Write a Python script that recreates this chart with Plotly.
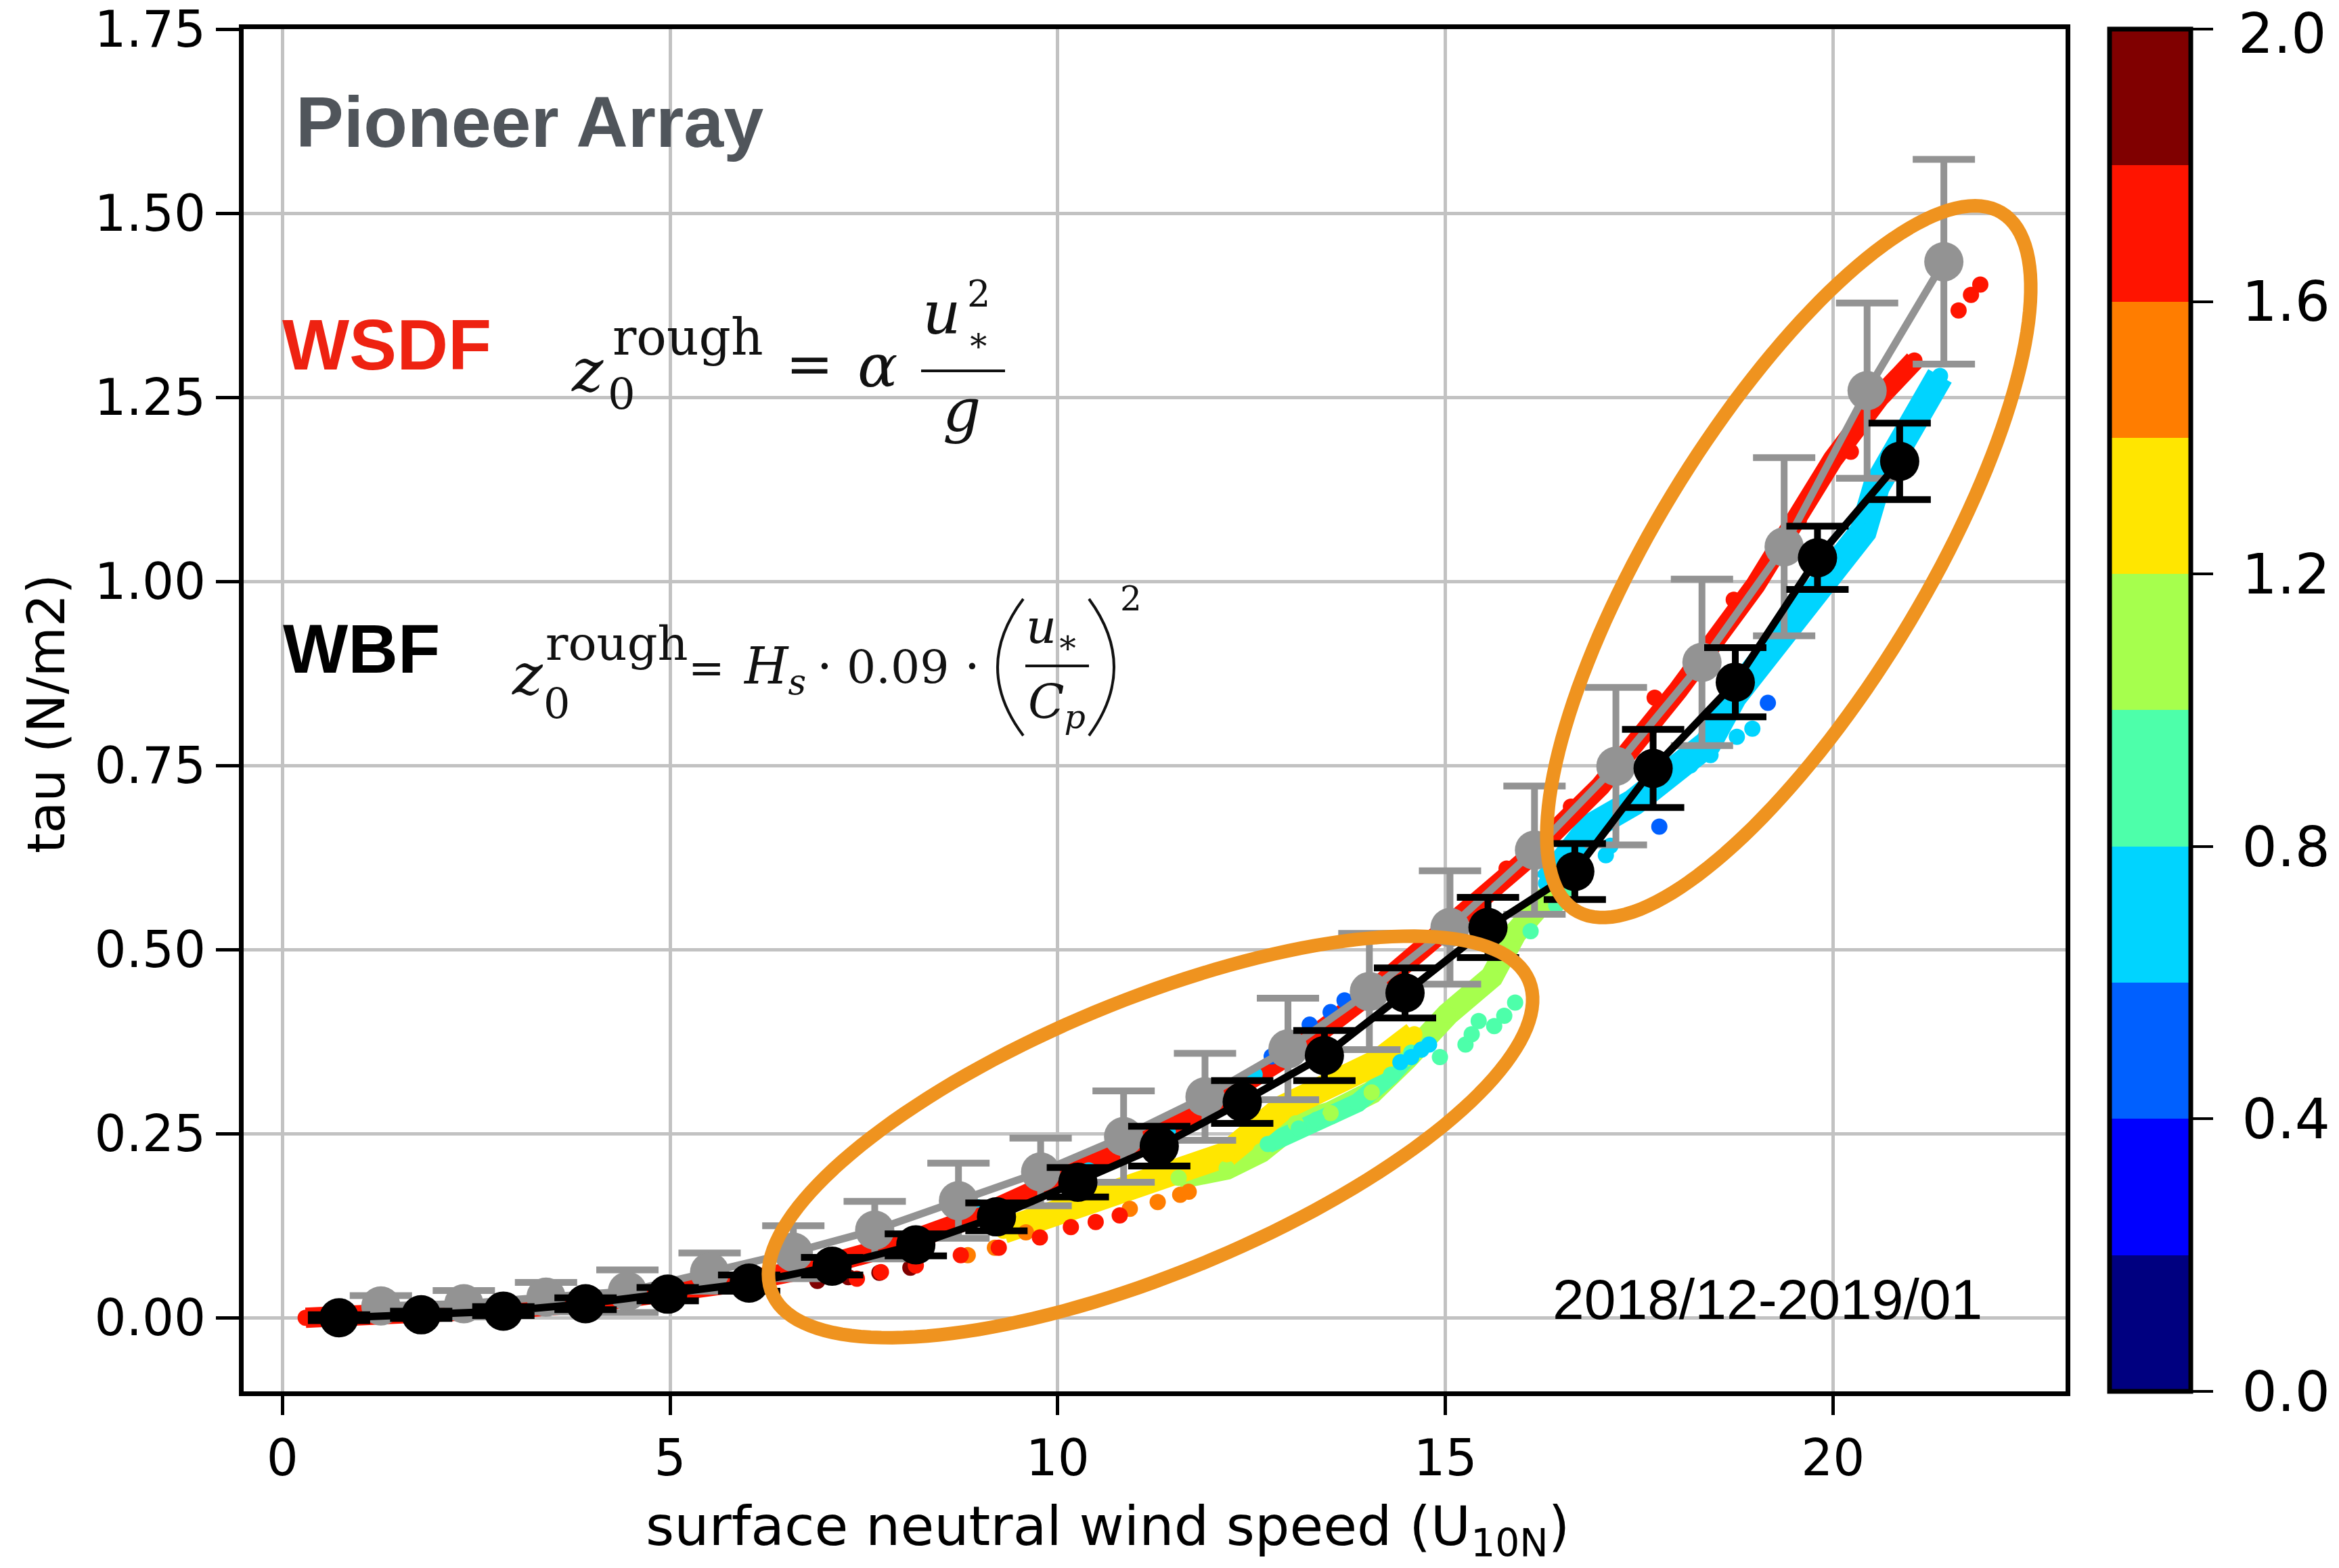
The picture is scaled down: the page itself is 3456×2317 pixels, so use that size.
import numpy as np
import plotly.graph_objects as go

# ---------------- data ----------------
# WSDF bin averages (gray) with +/- std
wsdf_x = [1.27, 2.34, 3.40, 4.45, 5.51, 6.59, 7.64, 8.72, 9.78, 10.85, 11.90, 12.97, 14.02, 15.06, 16.15, 17.20, 18.31, 19.37, 20.44, 21.43]
wsdf_y = [0.016, 0.019, 0.028, 0.036, 0.062, 0.089, 0.119, 0.159, 0.198, 0.246, 0.300, 0.365, 0.443, 0.530, 0.635, 0.749, 0.890, 1.047, 1.259, 1.434]
wsdf_err = [0.014, 0.018, 0.020, 0.029, 0.026, 0.036, 0.039, 0.051, 0.046, 0.062, 0.059, 0.069, 0.079, 0.077, 0.087, 0.107, 0.113, 0.121, 0.119, 0.139]

# WBF bin averages (black) with +/- std
wbf_x = [0.73, 1.79, 2.85, 3.91, 4.97, 6.02, 7.09, 8.17, 9.21, 10.26, 11.31, 12.38, 13.44, 14.48, 15.55, 16.67, 17.68, 18.74, 19.80, 20.86]
wbf_y = [0.000, 0.004, 0.009, 0.019, 0.032, 0.047, 0.070, 0.099, 0.137, 0.184, 0.233, 0.293, 0.356, 0.441, 0.530, 0.606, 0.746, 0.863, 1.032, 1.163]
wbf_err = [0.004, 0.005, 0.006, 0.008, 0.009, 0.011, 0.012, 0.015, 0.019, 0.020, 0.027, 0.029, 0.034, 0.034, 0.041, 0.038, 0.053, 0.047, 0.043, 0.052]

# individual samples, grouped by colour value (colour axis 0..2)
red_band_x = [0.3, 1.0, 2.0, 3.0, 4.0, 5.0, 6.0, 7.0, 8.0, 9.0, 10.0, 11.0, 12.0, 13.0, 14.0, 15.0, 16.0, 17.0, 18.0, 19.0, 20.0, 20.6, 21.05]
red_band_y = [0.000, 0.002, 0.007, 0.013, 0.021, 0.034, 0.050, 0.072, 0.101, 0.139, 0.184, 0.235, 0.292, 0.358, 0.438, 0.524, 0.618, 0.722, 0.852, 0.995, 1.166, 1.250, 1.300]
red_band_v = 1.7
red_edge_x = [15.79, 16.62, 17.70, 18.72, 19.56, 20.23]
red_edge_y = [0.610, 0.694, 0.842, 0.975, 1.083, 1.176]
red_low_x = [7.41, 7.72, 8.17, 8.75, 9.24, 9.77, 10.17, 10.49, 10.80]
red_low_y = [0.053, 0.062, 0.071, 0.085, 0.095, 0.109, 0.123, 0.130, 0.139]
red_tip_x = [21.62, 21.78, 21.90]
red_tip_y = [1.368, 1.389, 1.403]
red_v = 1.7
darkred_x = [6.9, 7.3, 7.7, 8.1]
darkred_y = [0.050, 0.055, 0.061, 0.068]
darkred_v = 1.9
orange_x = [8.84, 9.19, 9.59, 10.93, 11.29, 11.58, 11.69]
orange_y = [0.085, 0.095, 0.116, 0.148, 0.157, 0.167, 0.171]
orange_v = 1.5
yellow_x = [9.3, 9.7, 10.13, 10.66, 11.2, 11.73, 12.18, 12.9, 13.6, 14.14, 14.6]
yellow_y = [0.118, 0.132, 0.148, 0.166, 0.187, 0.208, 0.222, 0.285, 0.320, 0.348, 0.385]
yellow_v = 1.3
green_x = [11.56, 12.18, 12.62, 13.07, 13.52, 14.05, 14.50, 15.03, 15.60, 15.90, 16.30, 16.63]
green_y = [0.190, 0.203, 0.226, 0.264, 0.278, 0.306, 0.352, 0.412, 0.463, 0.522, 0.570, 0.600]
green_v = 1.1
aqua_x = [12.71, 13.11, 13.34, 13.87, 14.30, 14.56]
aqua_y = [0.236, 0.257, 0.269, 0.292, 0.330, 0.360]
aqua_hi_x = [16.10, 16.43, 16.56]
aqua_hi_y = [0.525, 0.560, 0.582]
aqua_dots_x = [14.93, 15.26, 15.34, 15.43, 15.63, 15.76, 15.90]
aqua_dots_y = [0.354, 0.371, 0.385, 0.403, 0.396, 0.410, 0.428]
aqua_v = 0.9
cyan_hi_x = [16.30, 16.87, 17.43, 17.90, 18.39, 18.72, 19.06, 19.56, 20.06, 20.39, 20.56, 20.90, 21.06, 21.20, 21.38]
cyan_hi_y = [0.590, 0.666, 0.700, 0.735, 0.780, 0.844, 0.890, 0.956, 1.021, 1.068, 1.129, 1.185, 1.227, 1.246, 1.279]
cyan_low_x = [17.07, 17.13, 18.16, 18.42, 18.76, 18.96]
cyan_low_y = [0.628, 0.641, 0.750, 0.764, 0.789, 0.800]
cyan_top_x = [8.97, 10.4, 11.42, 12.54]
cyan_top_y = [0.150, 0.200, 0.252, 0.330]
cyan_mid_x = [14.42, 14.56, 14.69, 14.79]
cyan_mid_y = [0.347, 0.354, 0.364, 0.371]
cyan_v = 0.7
blue_x = [12.76, 13.25, 13.52, 13.70, 17.76, 19.16]
blue_y = [0.355, 0.398, 0.415, 0.431, 0.667, 0.835]
blue_v = 0.5

# axes / ticks
x_range = [-0.5, 23.0]
y_range = [-0.1, 1.75]
x_ticks = [0, 5, 10, 15, 20]
y_ticks = [0.00, 0.25, 0.50, 0.75, 1.00, 1.25, 1.50, 1.75]
cbar_ticks = [0.0, 0.4, 0.8, 1.2, 1.6, 2.0]
JET10 = ['#000080', '#0000FF', '#0060FF', '#00D4FF', '#4DFFAA',
         '#A6FF4D', '#FFE600', '#FF7D00', '#FF1400', '#800000']

# ---------------- geometry helpers ----------------
W, H = 3456, 2317
L, R, T, B = 360, 3052, 43, 2056


def px(xp):
    return (xp - L) / (R - L)


def py(yp):
    return (B - yp) / (B - T)


def vcolor(v):
    return JET10[min(int(v / 0.2), 9)]


colorscale = []
for i, c in enumerate(JET10):
    colorscale.append([i / 10, c])
    colorscale.append([(i + 1) / 10, c])

fig = go.Figure()

# dense bands drawn as thick lines through the read points
bands = [
    (green_x, green_y, green_v, 34),
    (aqua_x, aqua_y, aqua_v, 28),
    (yellow_x, yellow_y, yellow_v, 38),
    (cyan_hi_x, cyan_hi_y, cyan_v, 40),
    (red_band_x, red_band_y, red_band_v, 30),
]
for bx, by, bv, bw in bands:
    fig.add_trace(go.Scatter(x=bx, y=by, mode='lines', hoverinfo='skip',
                             line=dict(color=vcolor(bv), width=bw)))

# all individual samples as coloured dots
groups = [
    (green_x, green_y, green_v), (aqua_x, aqua_y, aqua_v), (aqua_hi_x, aqua_hi_y, aqua_v),
    (aqua_dots_x, aqua_dots_y, aqua_v),
    (yellow_x, yellow_y, yellow_v), (orange_x, orange_y, orange_v),
    (darkred_x, darkred_y, darkred_v), (red_low_x, red_low_y, red_v),
    (cyan_hi_x, cyan_hi_y, cyan_v), (cyan_low_x, cyan_low_y, cyan_v),
    (cyan_top_x, cyan_top_y, cyan_v), (cyan_mid_x, cyan_mid_y, cyan_v),
    (blue_x, blue_y, blue_v),
    (red_band_x, red_band_y, red_band_v), (red_edge_x, red_edge_y, red_v),
    (red_tip_x, red_tip_y, red_v),
]
dx, dy, dv = [], [], []
for gx, gy, gv in groups:
    dx += list(gx)
    dy += list(gy)
    dv += [gv] * len(gx)

NB = '\u00a0'
cbar_text = [NB + '%.1f' % v for v in cbar_ticks]
cbar_text[-1] = ''   # top label drawn as an annotation so it stays inside the page
fig.add_trace(go.Scatter(
    x=dx, y=dy, mode='markers', hoverinfo='skip',
    marker=dict(size=24, color=dv, cmin=0, cmax=2, colorscale=colorscale,
                line=dict(width=0), showscale=True,
                colorbar=dict(
                    thickness=120, len=1, lenmode='fraction', y=0.5, yanchor='middle',
                    x=px(3117), xanchor='left', xpad=0, ypad=0,
                    outlinewidth=7, outlinecolor='black',
                    tickvals=cbar_ticks, ticktext=cbar_text,
                    ticks='outside', ticklen=30, tickwidth=4, tickcolor='black',
                    ticklabeloverflow='allow',
                    tickfont=dict(family='DejaVu Sans', size=82, color='black'))),
))

# WSDF (gray)
fig.add_trace(go.Scatter(
    x=wsdf_x, y=wsdf_y, mode='lines+markers', hoverinfo='skip',
    line=dict(color='#939393', width=11),
    marker=dict(size=58, color='#939393'),
    error_y=dict(type='data', array=wsdf_err, color='#939393', thickness=10, width=46)))

# WBF (black)
fig.add_trace(go.Scatter(
    x=wbf_x, y=wbf_y, mode='lines+markers', hoverinfo='skip',
    line=dict(color='black', width=11),
    marker=dict(size=58, color='black'),
    error_y=dict(type='data', array=wbf_err, color='black', thickness=10, width=46)))

# ---------------- shapes ----------------
shapes = []


def ellipse_path(cx, cy, a, b, theta_deg, n=160):
    t = np.linspace(0, 2 * np.pi, n)
    th = np.radians(theta_deg)
    xs = cx + a * np.cos(th) * np.cos(t) - b * np.sin(th) * np.sin(t)
    ys = cy - (a * np.sin(th) * np.cos(t) + b * np.cos(th) * np.sin(t))
    pts = ['%.5f,%.5f' % (px(X), py(Y)) for X, Y in zip(xs, ys)]
    return 'M ' + ' L '.join(pts) + ' Z'


orange = '#EF931F'
shapes.append(dict(type='path', xref='paper', yref='paper', layer='above',
                   path=ellipse_path(1700, 1680, 605, 202, 22.4),
                   line=dict(color=orange, width=20)))
shapes.append(dict(type='path', xref='paper', yref='paper', layer='above',
                   path=ellipse_path(2643, 830, 604, 199, 58.6),
                   line=dict(color=orange, width=20)))

# white boxes behind text (cover gridlines)
shapes.append(dict(type='rect', xref='paper', yref='paper', layer='between',
                   x0=px(425), x1=px(1140), y0=py(283), y1=py(67),
                   fillcolor='white', line=dict(width=0)))
shapes.append(dict(type='rect', xref='paper', yref='paper', layer='between',
                   x0=px(1018), x1=px(1755), y0=py(1119), y1=py(859),
                   fillcolor='white', line=dict(width=0)))

# fraction bars
shapes.append(dict(type='line', xref='paper', yref='paper', layer='above',
                   x0=px(1361), x1=px(1485), y0=py(548), y1=py(548),
                   line=dict(color='#111111', width=4)))
shapes.append(dict(type='line', xref='paper', yref='paper', layer='above',
                   x0=px(1515), x1=px(1609), y0=py(984), y1=py(984),
                   line=dict(color='#111111', width=4)))


# parentheses
def paren(x_end, x_ctrl, y0, y1):
    ym = (y0 + y1) / 2
    return 'M %.5f,%.5f Q %.5f,%.5f %.5f,%.5f' % (px(x_end), py(y0), px(x_ctrl), py(ym), px(x_end), py(y1))


shapes.append(dict(type='path', xref='paper', yref='paper', layer='above',
                   path=paren(1512, 1436, 885, 1087), line=dict(color='#111111', width=4)))
shapes.append(dict(type='path', xref='paper', yref='paper', layer='above',
                   path=paren(1609, 1683, 885, 1087), line=dict(color='#111111', width=4)))

# ---------------- annotations ----------------
anns = []


def label(text, x_px, base_px, size, family, color='#111111', xanchor='left', asc=0.928):
    top = base_px - asc * size
    anns.append(dict(text=text, x=px(x_px), y=py(top), xref='paper', yref='paper',
                     xanchor=xanchor, yanchor='top', showarrow=False, borderpad=0,
                     font=dict(family=family, size=size, color=color)))


SANS = 'Liberation Sans'
SERIF = 'DejaVu Serif'
label('<b>Pioneer Array</b>', 436, 216, 106, SANS, '#50555B', asc=0.905)
label('<b>WSDF</b>', 416, 545, 105, SANS, '#EE2211', asc=0.905)
label('<b>WBF</b>', 417, 993, 102, SANS, 'black', asc=0.905)
label('2018/12-2019/01', 2293, 1948, 84, SANS, 'black', asc=0.905)

# colour bar top label (kept inside the page)
anns.append(dict(text='%.1f' % cbar_ticks[-1], x=px(3306), y=py(1), xref='paper', yref='paper',
                 xanchor='left', yanchor='top', showarrow=False, borderpad=0,
                 font=dict(family='DejaVu Sans', size=82, color='black')))

# WSDF roughness formula
label('<i>z</i>', 843, 577, 88, SERIF)
label('rough', 904, 523, 74, SERIF)
label('0', 897, 604, 64, SERIF)
label('=', 1160, 566, 84, SERIF)
label('<i>α</i>', 1266, 570, 88, SERIF)
label('<i>u</i>', 1362, 492, 88, SERIF)
label('2', 1428, 452, 54, SERIF)
label('∗', 1428, 518, 50, SERIF)
label('<i>g</i>', 1392, 635, 88, SERIF)

# WBF roughness formula
label('<i>z</i>', 755, 1025, 85, SERIF)
label('rough', 805, 974, 70, SERIF)
label('0', 802, 1060, 62, SERIF)
label('=', 1016, 1008, 64, SERIF)
label('<i>H</i><sub><i>s</i></sub>', 1097, 1009, 74, SERIF)
label('·', 1206, 1009, 72, SERIF)
label('0.09', 1250, 1008, 68, SERIF)
label('·', 1424, 1009, 72, SERIF)
label('<i>u</i><sub>∗</sub>', 1515, 949, 70, SERIF)
label('<i>C</i><sub><i>p</i></sub>', 1518, 1060, 70, SERIF)
label('2', 1654, 901, 50, SERIF)

# axis titles
anns.append(dict(text='surface neutral wind speed (U<sub>10N</sub>)', x=px(1636), y=py(2260),
                 xref='paper', yref='paper', xanchor='center', yanchor='middle', showarrow=False,
                 font=dict(family='DejaVu Sans', size=81, color='black')))
anns.append(dict(text='tau (N/m2)', x=px(68), y=py(1055), xref='paper', yref='paper',
                 xanchor='center', yanchor='middle', textangle=-90, showarrow=False,
                 font=dict(family='DejaVu Sans', size=76, color='black')))

axis_common = dict(showline=True, linewidth=7, linecolor='black', mirror=True,
                   ticks='outside', tickwidth=5, tickcolor='black',
                   showgrid=True, gridcolor='#C2C2C2', gridwidth=5, zeroline=False,
                   ticklabeloverflow='allow', automargin=False,
                   tickfont=dict(family='DejaVu Sans', size=74, color='black'))

fig.update_layout(
    width=W, height=H,
    margin=dict(l=L, r=W - R, t=T, b=H - B, autoexpand=False),
    paper_bgcolor='white', plot_bgcolor='white', showlegend=False,
    xaxis=dict(range=x_range, tickvals=x_ticks, ticktext=[str(v) for v in x_ticks],
               ticklen=28, **axis_common),
    yaxis=dict(range=y_range, tickvals=y_ticks, ticktext=['%.2f' % v for v in y_ticks],
               ticklen=34, ticklabelstandoff=0, **axis_common),
    shapes=shapes, annotations=anns,
)

fig.write_html('out.html')
